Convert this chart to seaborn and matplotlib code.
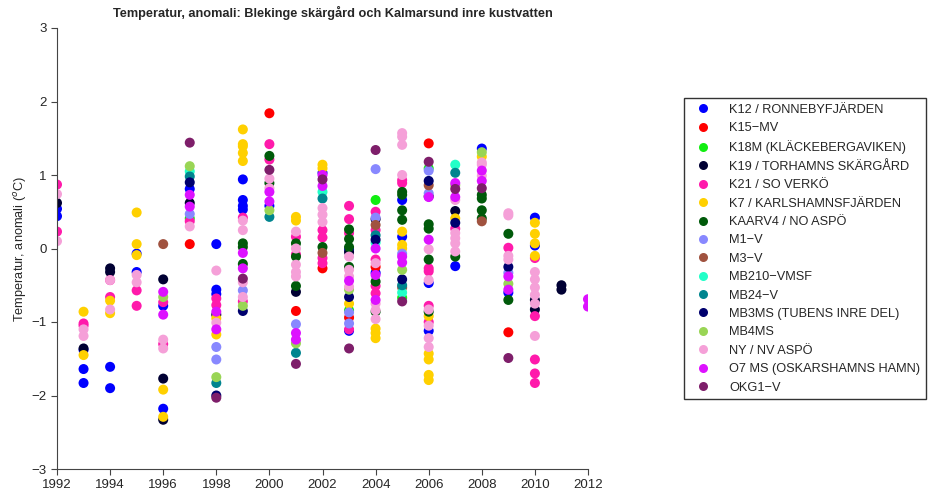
import pandas as pd
import seaborn as sns
import matplotlib.pyplot as plt

# stations in legend order, with their colours
stations = [
    "K12 / RONNEBYFJÄRDEN", "K15\u2212MV", "K18M (KLÄCKEBERGAVIKEN)", "K19 / TORHAMNS SKÄRGÅRD",
    "K21 / SO VERKÖ", "K7 / KARLSHAMNSFJÄRDEN", "KAARV4 / NO ASPÖ", "M1\u2212V", "M3\u2212V",
    "MB210\u2212VMSF", "MB24\u2212V", "MB3MS (TUBENS INRE DEL)", "MB4MS", "NY / NV ASPÖ",
    "O7 MS (OSKARSHAMNS HAMN)", "OKG1\u2212V",
]
colors = [
    "#0000FF", "#FF0000", "#11EE11", "#000033", "#FF1AAB", "#FFD000", "#005A0A", "#8888FF",
    "#A0523F", "#22FFC8", "#00858F", "#00006E", "#99D555", "#F5A0D8", "#DD11FF", "#7E1E6A",
]

# (year, anomaly) per station
k12 = [(1992, 0.54), (1992, 0.44), (1993, -1.38), (1993, -1.64), (1993, -1.83), (1994, -1.61),
       (1994, -1.90), (1995, -0.07), (1995, -0.32), (1996, -0.78), (1996, -2.18), (1997, 0.81),
       (1998, 0.06), (1998, -0.56), (1998, -0.62), (1999, 0.94), (1999, 0.66), (1999, 0.58),
       (1999, 0.53), (2000, 0.58), (2002, 1.03), (2003, -0.01), (2003, -1.12), (2004, -0.33),
       (2005, 0.66), (2005, 0.16), (2006, -0.47), (2006, -1.12), (2007, -0.24), (2008, 1.36),
       (2009, -0.60), (2010, 0.42), (2010, 0.04)]
k15 = [(1997, 0.06), (2000, 1.84), (2001, -0.85), (2002, -0.27), (2003, -0.94), (2004, -0.25),
       (2006, 1.43), (2009, -1.14)]
k18m = [(1997, 0.41), (2003, -0.84), (2004, 0.66), (2005, -0.67), (2006, 1.09)]
k19 = [(1992, 0.62), (1993, -1.36), (1994, -0.27), (1994, -0.32), (1996, -0.42), (1996, -1.77),
       (1996, -2.33), (1997, 0.62), (1998, -0.90), (2001, -0.59), (2003, -0.05), (2004, 0.40),
       (2006, 0.71), (2007, 0.51), (2010, -0.70), (2010, -0.83), (2011, -0.50), (2011, -0.56)]
k21 = [(1992, 0.87), (1992, 0.23), (1993, -1.02), (1993, -1.05), (1994, -0.43), (1994, -0.66),
       (1995, -0.57), (1995, -0.78), (1996, -0.73), (1996, -1.30), (1997, 0.37), (1998, -0.68),
       (1998, -0.77), (1999, 0.42), (1999, -0.72), (2000, 1.42), (2000, 1.21), (2001, 0.16),
       (2001, -0.08), (2002, 0.25), (2002, 0.15), (2002, -0.13), (2002, -0.20), (2003, 0.58),
       (2003, 0.40), (2003, 0.21), (2003, -1.10), (2004, 0.50), (2004, 0.25), (2004, -0.15),
       (2004, -0.51), (2004, -0.61), (2005, 0.93), (2005, 0.89), (2006, -0.27), (2006, -0.31),
       (2006, -0.78), (2006, -1.00), (2007, 0.27), (2009, 0.01), (2010, -0.13), (2010, -0.92),
       (2010, -1.51), (2010, -1.70), (2010, -1.83)]
k7 = [(1993, -0.86), (1993, -1.45), (1994, -0.71), (1994, -0.88), (1995, 0.49), (1995, 0.06),
      (1995, -0.09), (1996, -1.92), (1996, -2.29), (1998, -0.95), (1998, -1.17), (1999, 1.62),
      (1999, 1.42), (1999, 1.39), (1999, 1.30), (1999, 1.19), (2001, 0.43), (2001, 0.38),
      (2002, 1.14), (2002, 1.09), (2003, -0.75), (2004, -1.09), (2004, -1.15), (2004, -1.22),
      (2005, 0.23), (2005, 0.05), (2005, 0.00), (2006, -0.92), (2006, -1.43), (2006, -1.51),
      (2006, -1.72), (2006, -1.79), (2007, 0.41), (2008, 1.25), (2010, 0.35), (2010, 0.20),
      (2010, 0.07), (2010, -0.10)]
kaarv4 = [(1999, 0.07), (1999, 0.02), (1999, -0.21), (2000, 1.26), (2000, 0.89), (2001, 0.07),
          (2001, -0.11), (2001, -0.51), (2002, 0.02), (2003, 0.26), (2003, 0.13), (2003, 0.02),
          (2003, -0.25), (2004, -0.45), (2004, -0.86), (2005, 0.77), (2005, 0.73), (2005, 0.52),
          (2005, 0.39), (2006, 0.33), (2006, 0.27), (2006, -0.15), (2006, -0.86), (2007, -0.11),
          (2008, 0.73), (2008, 0.68), (2008, 0.52), (2008, 0.41), (2009, 0.20), (2009, -0.70)]
m1 = [(1997, 0.47), (1998, -1.34), (1998, -1.51), (1999, -0.57), (2001, -1.03), (2003, -0.87),
      (2003, -1.02), (2004, 1.08), (2004, 0.42), (2005, -0.07), (2006, 1.06), (2006, 0.75),
      (2009, -0.33)]
m3 = [(1996, 0.06), (2002, -0.06), (2004, 0.32), (2005, -0.53), (2006, 0.86), (2008, 0.37)]
mb210 = [(1997, 1.05), (2002, 0.77), (2004, 0.08), (2005, -0.60), (2007, 1.14)]
mb24 = [(1997, 0.98), (1998, -1.83), (2000, 0.43), (2001, -1.42), (2002, 0.68), (2004, 0.18),
        (2005, -0.50), (2007, 1.03)]
mb3ms = [(1997, 0.90), (1998, -2.00), (1999, -0.85), (2003, -0.66), (2004, 0.12), (2005, -0.42),
         (2006, 0.92), (2007, 0.35), (2009, -0.25)]
mb4ms = [(1996, -0.66), (1997, 1.12), (1998, -1.75), (1999, -0.78), (2000, 0.52), (2001, -1.29),
         (2003, -0.56), (2005, -0.29), (2007, 0.86), (2008, 1.31), (2009, -0.48)]
ny = [(1992, 0.74), (1992, 0.10), (1993, -1.10), (1993, -1.19), (1994, -0.43), (1994, -0.83),
      (1995, -0.36), (1995, -0.46), (1996, -1.24), (1996, -1.36), (1997, 0.30), (1998, -0.30),
      (1998, -1.01), (1999, 0.38), (1999, 0.25), (1999, -0.46), (1999, -0.66), (2000, 0.95),
      (2000, 0.82), (2001, 0.23), (2001, 0.00), (2001, -0.22), (2001, -0.32), (2001, -0.38),
      (2002, 0.55), (2002, 0.46), (2002, 0.36), (2003, -0.11), (2003, -0.29), (2003, -0.38),
      (2003, -0.52), (2004, -0.20), (2004, -0.75), (2004, -0.84), (2004, -0.96), (2005, 1.57),
      (2005, 1.52), (2005, 1.41), (2005, 1.00), (2006, -0.01), (2006, -0.43), (2006, -0.83),
      (2006, -1.05), (2006, -1.22), (2006, -1.34), (2007, 0.66), (2007, 0.21), (2007, 0.14),
      (2007, 0.07), (2007, -0.04), (2008, 1.17), (2008, 1.14), (2008, 0.99), (2009, 0.48),
      (2009, 0.45), (2009, -0.10), (2009, -0.15), (2010, -0.32), (2010, -0.42), (2010, -0.53),
      (2010, -0.63), (2010, -0.75), (2010, -1.19)]
o7 = [(1996, -0.59), (1996, -0.90), (1997, 0.73), (1997, 0.57), (1998, -0.86), (1998, -1.10),
      (1999, -0.06), (1999, -0.27), (2000, 0.77), (2000, 0.64), (2001, -1.15), (2001, -1.24),
      (2002, 1.00), (2002, 0.85), (2003, -0.44), (2004, 0.00), (2004, -0.36), (2004, -0.70),
      (2005, -0.11), (2005, -0.19), (2006, 0.70), (2006, 0.12), (2007, 0.89), (2007, 0.70),
      (2008, 1.06), (2008, 0.92), (2009, -0.38), (2009, -0.56), (2012, -0.69), (2012, -0.79)]
okg1 = [(1997, 1.44), (1998, -2.03), (1999, -0.41), (2000, 1.07), (2001, -1.57), (2002, 0.94),
        (2003, -1.36), (2004, 1.34), (2005, -0.72), (2006, 1.18), (2007, 0.81), (2008, 0.82),
        (2009, -1.49)]

series = [k12, k15, k18m, k19, k21, k7, kaarv4, m1, m3, mb210, mb24, mb3ms, mb4ms, ny, o7, okg1]

rows = []
for name, pts in zip(stations, series):
    for yr, val in pts:
        rows.append({"station": name, "year": yr, "anomaly": val})
df = pd.DataFrame(rows)

sns.set_style("ticks")
plt.rcParams["font.family"] = ["Liberation Sans", "DejaVu Sans"]

fig = plt.figure(figsize=(9.33, 4.99), dpi=100)
ax = fig.add_axes([57 / 933, 30 / 499, 531 / 933, 441 / 499])

sns.scatterplot(data=df, x="year", y="anomaly", hue="station", hue_order=stations,
                palette=dict(zip(stations, colors)), s=52, linewidth=0, ax=ax, legend="full")

ax.set_xlim(1992, 2012)
ax.set_ylim(-3, 3)
ax.set_xticks(range(1992, 2013, 2))
ax.set_yticks(range(-3, 4))
ax.tick_params(labelsize=9.5, length=4, width=0.8, color="#444444")
for sp in ["top", "right"]:
    ax.spines[sp].set_visible(False)
for sp in ["left", "bottom"]:
    ax.spines[sp].set_color("#444444")
    ax.spines[sp].set_linewidth(0.8)
ax.set_xlabel("")
ax.set_ylabel("Temperatur, anomali ($^o$C)", fontsize=9.2, labelpad=2)
ax.set_title("Temperatur, anomali: Blekinge skärgård och Kalmarsund inre kustvatten",
             fontsize=9.2, fontweight="bold", pad=8, x=0.52)

sns.move_legend(ax, "upper left", bbox_to_anchor=(684 / 933, 1 - 98 / 499),
                bbox_transform=fig.transFigure, title=None, frameon=True, fancybox=False,
                fontsize=9.2, borderaxespad=0, labelspacing=0.5, handletextpad=1.1,
                borderpad=0.45, markerscale=0.9)
leg = ax.get_legend()
leg.get_frame().set_edgecolor("black")
leg.get_frame().set_linewidth(1.0)

fig.savefig("out.png", dpi=100)
